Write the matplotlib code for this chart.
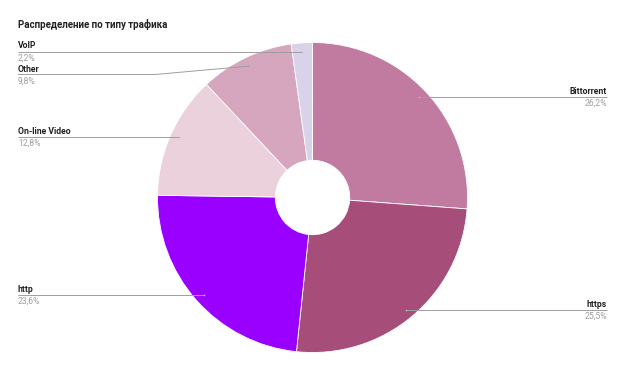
import numpy as np
import matplotlib.pyplot as plt

plt.rcParams['font.family'] = ['Roboto', 'DejaVu Sans']

# traffic share by type, %
labels = ['Bittorrent', 'https', 'http', 'On-line Video', 'Other', 'VoIP']
shares = [26.2, 25.5, 23.6, 12.8, 9.8, 2.2]
pct_text = ['26,2%', '25,5%', '23,6%', '12,8%', '9,8%', '2,2%']
colors = ['#c27ba0', '#a64d79', '#9900ff', '#ead1dc', '#d5a6bd', '#d9d2e9']

W, H = 627, 371
fig = plt.figure(figsize=(W / 100, H / 100), dpi=100)
ax = fig.add_axes([0, 0, 1, 1])

cx, cy, r = 312.5, H - 197.5, 155
wedges, _ = ax.pie(shares, colors=colors, startangle=90, counterclock=False,
                   center=(cx, cy), radius=r, frame=True,
                   wedgeprops=dict(width=r * 0.76, edgecolor='white', linewidth=0.6))
ax.set_xlim(0, W)
ax.set_ylim(0, H)
ax.set_aspect('equal')
ax.axis('off')

# label layout: underline y (pixels from top), side
line_y = [97, 310, 294.5, 137, 74.5, 51.5]
side = ['r', 'r', 'l', 'l', 'l', 'l']

for w, name, pct, ly, s in zip(wedges, labels, pct_text, line_y, side):
    mid = np.deg2rad((w.theta1 + w.theta2) / 2)
    ax_x = cx + 0.94 * r * np.cos(mid)
    ax_y = cy + 0.94 * r * np.sin(mid)
    y = H - ly
    if s == 'l':
        tx, ha = 18, 'left'
        elbow = min(ax_x, 155)
    else:
        tx, ha = 607, 'right'
        elbow = max(ax_x, 440)
    if abs(ax_y - y) < 4:
        elbow = ax_x
        ax_y = y
    ax.plot([tx, elbow, ax_x], [y, y, ax_y], color='#9e9e9e', lw=0.7,
            solid_capstyle='butt')
    ax.plot(ax_x, ax_y, 'o', ms=1.2, color='#bdbdbd', mec='none')
    ax.text(tx, y + 5.5, name, ha=ha, va='center', fontsize=6.2,
            fontweight='bold', color='#222222')
    ax.text(tx, y - 6.5, pct, ha=ha, va='center', fontsize=6.2, color='#9e9e9e')

fig.text(18 / W, 1 - 24 / H, 'Распределение по типу трафика', ha='left', va='center',
         fontsize=7.0, fontweight='bold', color='#222222')

fig.savefig('out.png', dpi=100, facecolor='white')
